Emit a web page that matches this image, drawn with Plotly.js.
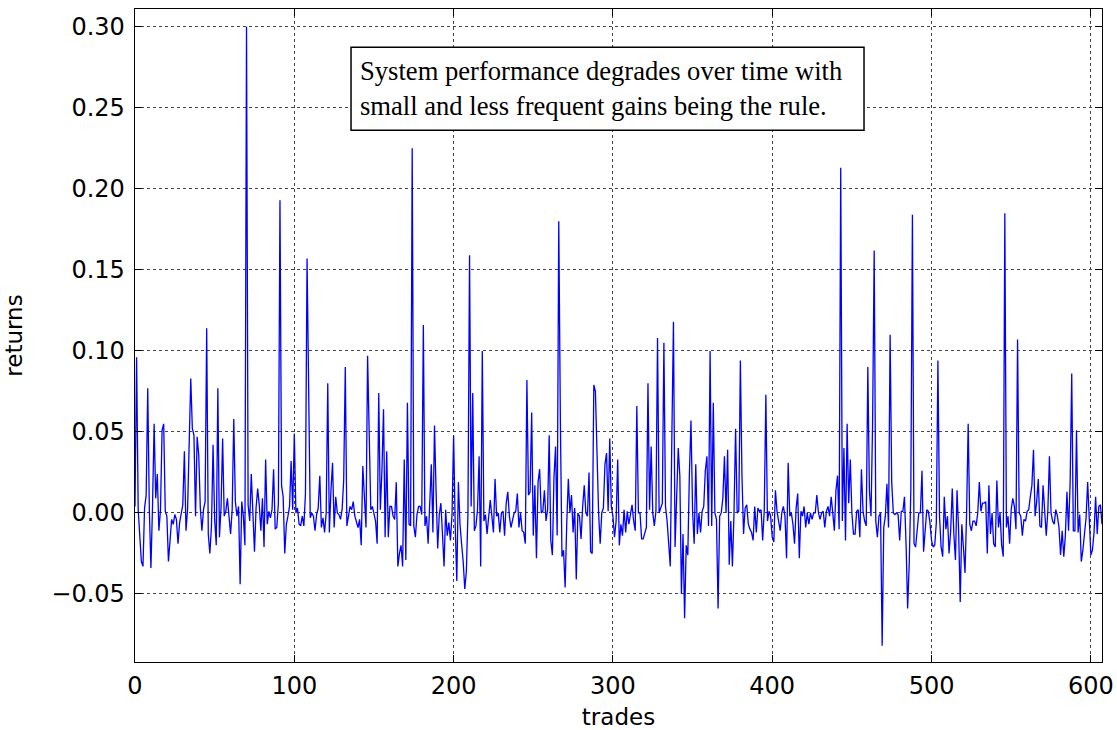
<!DOCTYPE html>
<html>
<head>
<meta charset="utf-8">
<script src="https://cdn.plot.ly/plotly-3.0.1.min.js"></script>
<style>html,body{margin:0;padding:0;background:#fff;}#chart{width:1117px;height:730px;}</style>
</head>
<body>
<div id="chart"></div>
<script>
// returns per trade (trades 0-99, 100-199, ...)
const returns000 = [0.004, 0.096, 0.002, -0.011, -0.030, -0.033, 0.003, 0.011, 0.077, 0.002,
 -0.034, 0.004, 0.055, 0.009, 0.024, -0.011, 0.002, 0.051, 0.055, 0.001,
 -0.002, -0.030, -0.019, -0.004, -0.007, -0.001, -0.004, -0.019, -0.006, 0.000,
 0.005, 0.038, -0.011, 0.002, 0.036, 0.083, 0.052, 0.048, -0.002, 0.047,
 0.036, 0.003, -0.011, 0.002, 0.007, 0.114, -0.013, -0.025, -0.008, 0.042,
 -0.004, -0.020, 0.077, -0.015, 0.003, 0.046, -0.002, 0.001, 0.009, -0.005,
 -0.013, 0.002, 0.058, 0.007, -0.002, 0.004, -0.044, 0.007, -0.002, -0.020,
 0.300, 0.005, -0.005, 0.024, 0.002, -0.024, 0.003, 0.015, 0.005, -0.011,
 0.009, -0.021, 0.033, -0.007, 0.001, -0.003, 0.002, 0.027, -0.010, -0.009,
 0.006, 0.193, 0.017, 0.010, -0.025, -0.007, -0.002, 0.004, 0.032, 0.002];
const returns100 = [0.049, 0.000, 0.003, -0.007, -0.008, -0.002, -0.008, 0.012, 0.157, 0.056,
 -0.003, 0.000, -0.002, -0.011, -0.001, 0.003, 0.023, -0.009, -0.003, -0.012,
 0.000, 0.080, -0.012, 0.014, 0.031, -0.009, 0.010, 0.000, -0.001, -0.004,
 0.002, 0.020, 0.090, -0.008, -0.001, 0.004, 0.002, 0.007, -0.002, -0.005,
 -0.009, -0.004, -0.020, 0.029, 0.010, -0.009, 0.097, 0.038, 0.002, 0.004,
 -0.001, -0.005, -0.019, 0.074, 0.002, 0.026, 0.064, -0.015, 0.038, -0.015,
 0.004, 0.004, -0.002, -0.004, 0.019, -0.033, -0.025, -0.020, -0.033, 0.033,
 -0.029, 0.068, -0.007, -0.008, 0.225, -0.008, -0.015, -0.001, 0.004, 0.004,
 -0.001, 0.116, -0.008, -0.002, -0.019, 0.003, 0.030, -0.012, 0.054, 0.013,
 -0.022, -0.001, 0.006, -0.013, -0.033, 0.002, -0.014, -0.006, -0.017, -0.001];
const returns200 = [0.048, -0.008, -0.042, 0.019, -0.007, -0.019, -0.030, -0.047, -0.036, 0.000,
 0.159, 0.004, 0.074, -0.011, -0.008, 0.002, 0.035, -0.033, 0.100, -0.005,
 -0.001, -0.013, 0.000, 0.008, -0.002, -0.012, 0.021, -0.002, 0.000, -0.012,
 0.000, 0.001, -0.014, 0.006, 0.013, -0.002, -0.009, -0.005, 0.000, 0.001,
 0.012, -0.009, 0.000, -0.011, -0.012, -0.019, 0.082, 0.011, 0.013, 0.062,
 -0.014, 0.017, -0.028, 0.019, 0.027, 0.000, 0.001, 0.014, -0.005, 0.002,
 0.048, -0.017, -0.026, 0.022, 0.041, -0.014, 0.180, 0.058, -0.027, -0.023,
 -0.046, -0.007, 0.021, 0.000, 0.011, -0.012, 0.003, -0.041, 0.000, -0.002,
 -0.016, 0.004, 0.017, 0.000, -0.002, 0.025, -0.024, -0.025, 0.079, 0.075,
 0.034, 0.000, -0.019, 0.000, 0.003, 0.030, 0.037, 0.001, 0.046, 0.004];
const returns300 = [-0.002, -0.015, -0.005, 0.033, -0.020, -0.007, -0.014, 0.002, -0.012, 0.001,
 -0.007, -0.002, 0.005, -0.005, -0.011, 0.066, 0.000, 0.000, -0.016, -0.016,
 -0.013, -0.009, 0.080, 0.002, 0.041, 0.000, -0.008, 0.001, 0.108, 0.000,
 0.003, 0.006, 0.105, 0.004, -0.005, -0.019, -0.033, 0.048, 0.118, -0.021,
 0.018, 0.040, 0.023, -0.050, -0.013, -0.065, -0.020, -0.026, 0.024, 0.057,
 0.001, -0.019, 0.030, -0.013, 0.000, -0.012, 0.001, 0.004, 0.026, 0.035,
 -0.008, 0.100, -0.008, 0.068, 0.000, -0.004, -0.059, -0.002, 0.000, 0.009,
 0.035, 0.000, 0.039, -0.032, -0.005, -0.033, 0.000, 0.052, 0.000, 0.001,
 0.094, 0.023, -0.013, 0.003, 0.005, -0.007, -0.010, -0.012, -0.017, 0.004,
 -0.012, 0.003, 0.001, 0.002, -0.017, 0.002, 0.073, -0.005, 0.001, -0.002];
const returns400 = [-0.015, -0.018, 0.014, 0.001, -0.005, -0.011, 0.000, 0.004, -0.002, -0.028,
 0.031, -0.002, 0.000, -0.007, -0.019, 0.003, 0.012, -0.028, 0.001, -0.002,
 0.004, -0.009, 0.000, -0.007, 0.000, -0.004, 0.000, 0.000, 0.011, 0.000,
 -0.004, 0.000, 0.001, -0.009, 0.001, 0.004, -0.002, 0.010, 0.000, -0.011,
 0.014, 0.023, -0.010, 0.213, -0.005, 0.040, -0.017, 0.055, 0.006, 0.033,
 0.000, -0.013, -0.013, 0.001, 0.002, -0.015, 0.027, 0.001, -0.005, -0.008,
 0.090, 0.014, -0.002, 0.056, 0.162, -0.005, -0.015, -0.002, 0.000, -0.082,
 -0.009, -0.002, 0.018, -0.009, 0.110, 0.019, 0.000, -0.001, 0.000, -0.001,
 -0.017, 0.001, 0.001, 0.010, -0.019, -0.059, -0.031, 0.014, 0.184, -0.019,
 -0.021, -0.009, 0.000, 0.000, 0.026, -0.024, -0.012, 0.002, 0.001, -0.006];
const returns500 = [-0.017, -0.021, -0.020, -0.006, 0.094, -0.002, -0.021, -0.027, 0.010, -0.010,
 -0.002, -0.025, -0.011, 0.015, -0.013, -0.029, 0.014, -0.011, -0.055, -0.007,
 -0.021, -0.037, 0.000, 0.055, -0.007, -0.011, -0.005, -0.005, -0.008, 0.000,
 0.019, 0.001, 0.006, 0.006, 0.007, -0.025, 0.017, -0.013, 0.000, -0.019,
 -0.021, 0.020, -0.009, 0.000, -0.020, -0.027, 0.185, -0.009, -0.002, -0.019,
 0.002, 0.009, 0.004, -0.010, 0.107, 0.000, -0.002, -0.014, -0.004, -0.005,
 0.001, 0.002, 0.010, 0.017, 0.039, -0.002, 0.007, 0.021, -0.008, -0.009,
 0.017, -0.002, -0.014, 0.001, 0.035, 0.000, -0.005, -0.007, 0.002, -0.002,
 -0.009, -0.026, -0.011, -0.027, -0.014, 0.013, -0.011, 0.019, 0.086, -0.011,
 -0.011, 0.051, -0.012, -0.001, -0.030, -0.023, -0.013, -0.003, 0.019, -0.002,
 -0.026, -0.023, -0.012, 0.010, -0.013, 0.004, 0.005, -0.007];

const xTickVals = [0, 100, 200, 300, 400, 500, 600];
const xTickText = ["0", "100", "200", "300", "400", "500", "600"];
const yTickVals = [-0.05, 0.00, 0.05, 0.10, 0.15, 0.20, 0.25, 0.30];
const yTickText = ["\u22120.05", "0.00", "0.05", "0.10", "0.15", "0.20", "0.25", "0.30"];
const noteText = "System performance degrades over time with<br>small and less frequent gains being the rule.";
const xTitle = "trades";
const yTitle = "returns";

const returns = [].concat(returns000, returns100, returns200, returns300, returns400, returns500);
const trades = returns.map((_, i) => i);

const axisFont = {family: "DejaVu Sans, sans-serif", size: 23, color: "#000"};
const tickFont = {family: "DejaVu Sans, sans-serif", size: 24, color: "#000"};
const common = {
  ticks: "inside", ticklen: 7, tickwidth: 1, tickcolor: "#000",
  mirror: "ticks", showline: true, linecolor: "#000", linewidth: 1.3,
  showgrid: true, gridcolor: "#444", griddash: "dot", gridwidth: 1,
  zeroline: false, tickfont: tickFont
};

const layout = {
  width: 1117, height: 730,
  margin: {l: 135, r: 15, t: 9, b: 68, pad: 0},
  paper_bgcolor: "#fff", plot_bgcolor: "#fff",
  showlegend: false,
  xaxis: Object.assign({}, common, {
    range: [0, 607], tickmode: "array", tickvals: xTickVals, ticktext: xTickText,
    ticklabelstandoff: 2,
    title: {text: xTitle, font: axisFont, standoff: 10}
  }),
  yaxis: Object.assign({}, common, {
    range: [-0.092, 0.311], tickmode: "array", tickvals: yTickVals, ticktext: yTickText,
    ticklabelstandoff: 4,
    title: {text: yTitle, font: axisFont, standoff: 22}
  }),
  shapes: [{
    type: "rect", xref: "paper", yref: "paper",
    x0: 0.2234, x1: 0.7539, y0: 0.8142, y1: 0.9413,
    line: {color: "#000", width: 1.5}, fillcolor: "#fff", layer: "above"
  }],
  annotations: [{
    xref: "paper", yref: "paper", x: 0.2317, y: 0.878,
    xanchor: "left", yanchor: "middle", showarrow: false, align: "left",
    text: noteText,
    font: {family: "Liberation Serif, Times New Roman, serif", size: 26.6, color: "#000"},
    borderpad: 0
  }]
};

Plotly.newPlot("chart", [{
  x: trades, y: returns, type: "scatter", mode: "lines",
  line: {color: "#0000ff", width: 1.3}, hoverinfo: "skip"
}], layout, {staticPlot: true, displayModeBar: false});
</script>
</body>
</html>
